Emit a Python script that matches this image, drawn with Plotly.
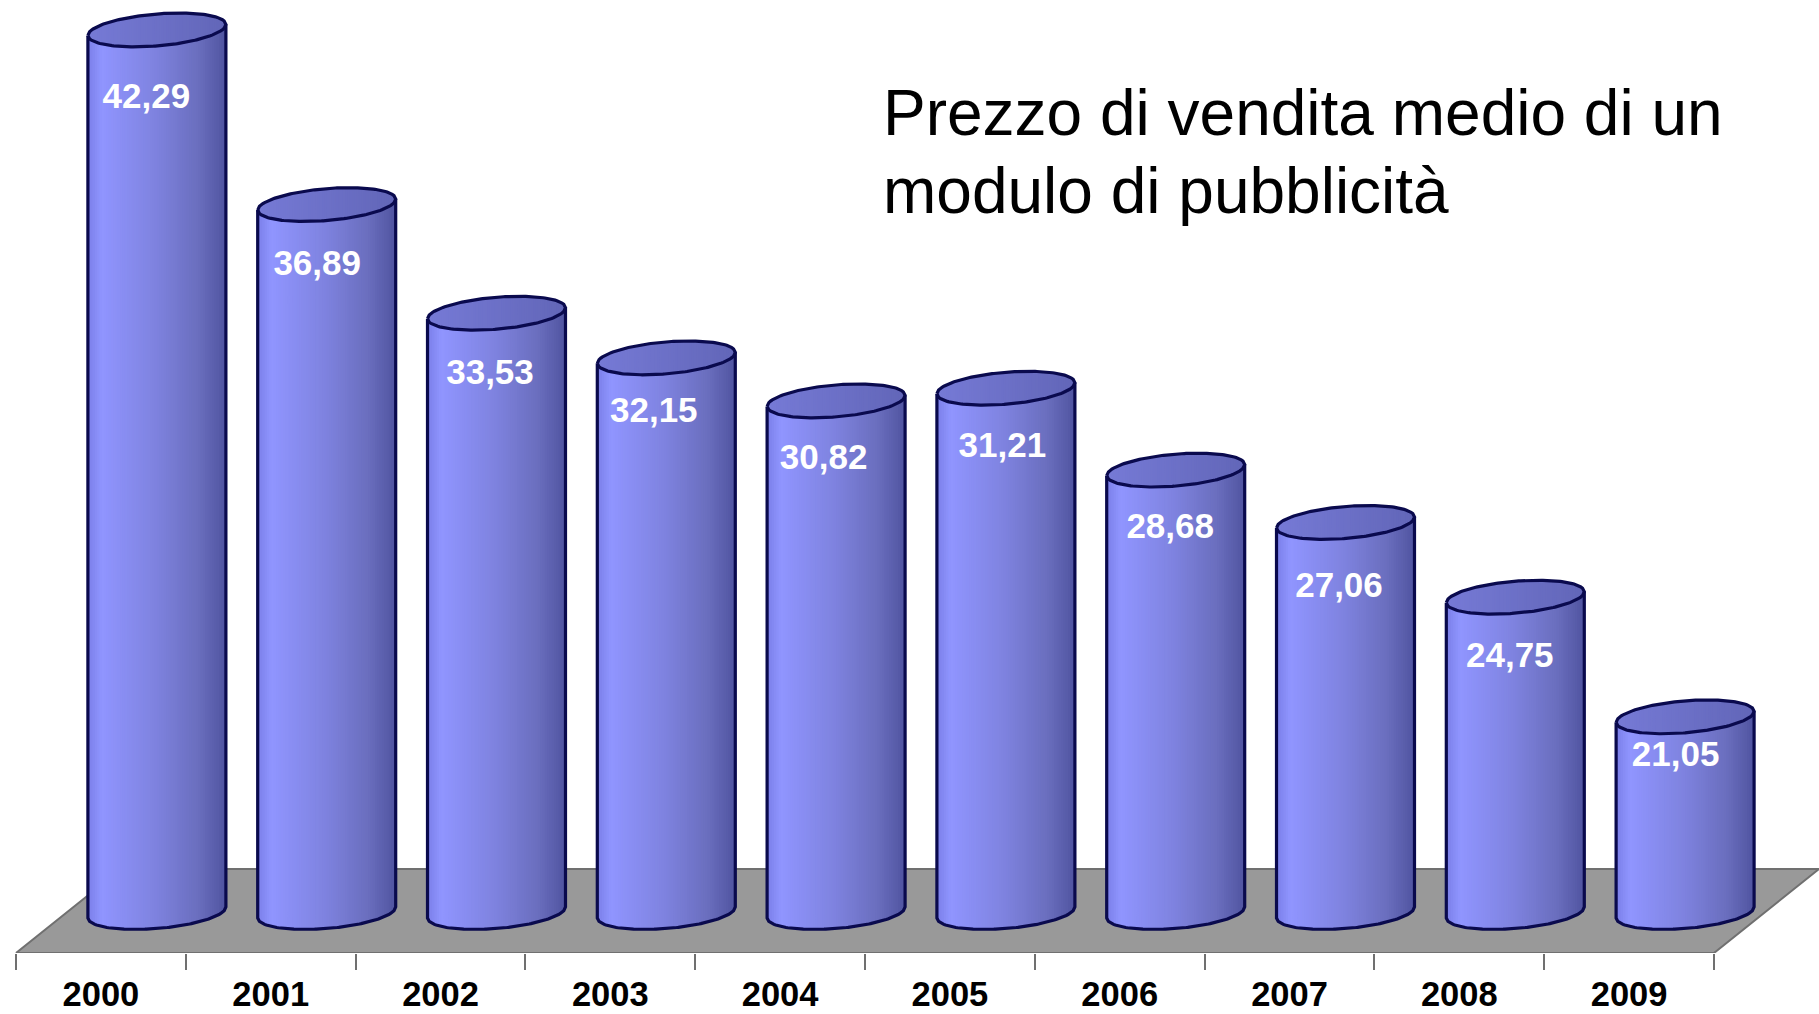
import numpy as np
import plotly.graph_objects as go

# ---- data ----
years = ["2000", "2001", "2002", "2003", "2004", "2005", "2006", "2007", "2008", "2009"]
prices = [42.29, 36.89, 33.53, 32.15, 30.82, 31.21, 28.68, 27.06, 24.75, 21.05]
title_lines = ["Prezzo di vendita medio di un", "modulo di pubblicità"]

# ---- scales & style ----
W, H = 1819, 1014
BOTTOM = 953            # pixel row of the category axis
PX_PER_CAT = 169.8
PX_PER_UNIT = 32.34
BASE_VALUE = 15.0
BASE_PX = 912.5
LEFT_PX = 16.0
xr = [(0 - LEFT_PX) / PX_PER_CAT - 0.5, (W - LEFT_PX) / PX_PER_CAT - 0.5]
yr = [BASE_VALUE + (BASE_PX - BOTTOM) / PX_PER_UNIT, BASE_VALUE + BASE_PX / PX_PER_UNIT]

DEPTH_X = 56.0 / PX_PER_CAT       # oblique shift of the bars
A = 69.0 / PX_PER_CAT             # half width
B = 16.0 / PX_PER_UNIT            # ellipse half height
TILT = 5.5 / PX_PER_UNIT          # rise across the half width
FLOOR_DX = 105 / PX_PER_CAT
FLOOR_DY = 84 / PX_PER_UNIT
OUTLINE = "#0a0a4e"

label_dx = [-10, -9, -6, -12, -12, -3, -5, -6, -5, -9]
label_dy = [69.5, 61.5, 62.5, 55.5, 59.5, 59.5, 59.5, 65.5, 61.5, 40.5]

N = 60
edges = np.linspace(-1, 1, N + 1)


def lerp_color(stops, t):
    ts = [s[0] for s in stops]
    cs = np.array([s[1] for s in stops], dtype=float)
    c = [np.interp(t, ts, cs[:, k]) for k in range(3)]
    return "rgb(%d,%d,%d)" % tuple(round(v) for v in c)


body_stops = [(0, (122, 127, 232)), (0.1, (144, 149, 255)), (0.5, (126, 130, 222)), (0.8, (106, 110, 190)), (1, (80, 84, 160))]
top_stops = [(0, (118, 122, 214)), (1, (98, 102, 184))]

centers = [i + DEPTH_X for i in range(len(prices))]


def lower(u, level):
    return level + TILT * u - B * np.sqrt(np.clip(1 - u * u, 0, 1))


def upper(u, level):
    return level + TILT * u + B * np.sqrt(np.clip(1 - u * u, 0, 1))


fig = go.Figure()

# floor
fx0, fx1 = -0.5, len(years) - 0.5
fy = BASE_VALUE + (BASE_PX - BOTTOM) / PX_PER_UNIT
fig.add_trace(go.Scatter(
    x=[fx0, fx1, fx1 + FLOOR_DX, fx0 + FLOOR_DX, fx0],
    y=[fy, fy, fy + FLOOR_DY, fy + FLOOR_DY, fy],
    mode="lines", fill="toself", fillcolor="#999999",
    line=dict(color="#707070", width=2), hoverinfo="skip"))

# gradient of the cylinder bodies and the top ellipses:
# each layer runs from its left edge to the right side and is painted over the previous one
for stops, kind in ((body_stops, "body"), (top_stops, "top")):
    for j in range(N):
        us = np.linspace(edges[j], 1, max(3, 40 - j // 2))
        xs, ys = [], []
        for c, v in zip(centers, prices):
            lo = lower(us, BASE_VALUE if kind == "body" else v)
            hi = upper(us, v)
            xs += list(c + A * us) + list(c + A * us[::-1]) + [None]
            ys += list(lo) + list(hi[::-1]) + [None]
        col = lerp_color(stops, (j + 0.5) / N)
        fig.add_trace(go.Scatter(x=xs, y=ys, mode="none", fill="toself", fillcolor=col, hoverinfo="skip"))

# outlines
t = np.linspace(-1, 1, 81)
ox, oy = [], []
for c, v in zip(centers, prices):
    # sides and bottom arc
    ox += [c - A] + list(c + A * t) + [c + A, None]
    oy += [v - TILT] + list(lower(t, BASE_VALUE)) + [v + TILT, None]
    # top ellipse
    ox += list(c + A * t) + list(c + A * t[::-1]) + [None]
    oy += list(lower(t, v)) + list(upper(t[::-1], v)) + [None]
fig.add_trace(go.Scatter(x=ox, y=oy, mode="lines", line=dict(color=OUTLINE, width=3.2), hoverinfo="skip"))

# value labels
fig.add_trace(go.Scatter(
    x=[c + (dx - 0.5) / PX_PER_CAT for c, dx in zip(centers, label_dx)],
    y=[v - dy / PX_PER_UNIT for v, dy in zip(prices, label_dy)],
    mode="text",
    text=[f"{v:.2f}".replace(".", ",") for v in prices],
    textposition="middle center",
    textfont=dict(family="Liberation Sans", size=35, color="white", weight="bold"),
    hoverinfo="skip"))

# title
for line, px in zip(title_lines, (113, 191)):
    fig.add_annotation(text=line, xref="paper", yref="paper", x=881 / W, y=1 - px / BOTTOM,
                       xanchor="left", yanchor="middle", showarrow=False,
                       font=dict(family="Liberation Sans", size=64, color="black"))

fig.update_layout(
    width=W, height=H, autosize=False,
    margin=dict(l=0, r=0, t=0, b=H - BOTTOM, pad=0, autoexpand=False),
    paper_bgcolor="white", plot_bgcolor="white", showlegend=False,
    xaxis=dict(range=xr, showgrid=False, zeroline=False, showline=False, automargin=False,
               tickmode="array", tickvals=list(range(len(years))), ticktext=years,
               ticks="", ticklabelstandoff=17,
               tickfont=dict(family="Liberation Sans", size=34.5, color="black", weight="bold"),
               minor=dict(tickmode="array", tickvals=[i - 0.5 for i in range(len(years) + 1)],
                          ticks="outside", ticklen=16, tickwidth=1.5, tickcolor="#707070", showgrid=False)),
    yaxis=dict(range=yr, visible=False, showgrid=False, zeroline=False, automargin=False),
)

fig.write_html("out.html", config={"displayModeBar": False},
               post_script="document.body.style.margin='0';document.body.style.overflow='hidden';")
